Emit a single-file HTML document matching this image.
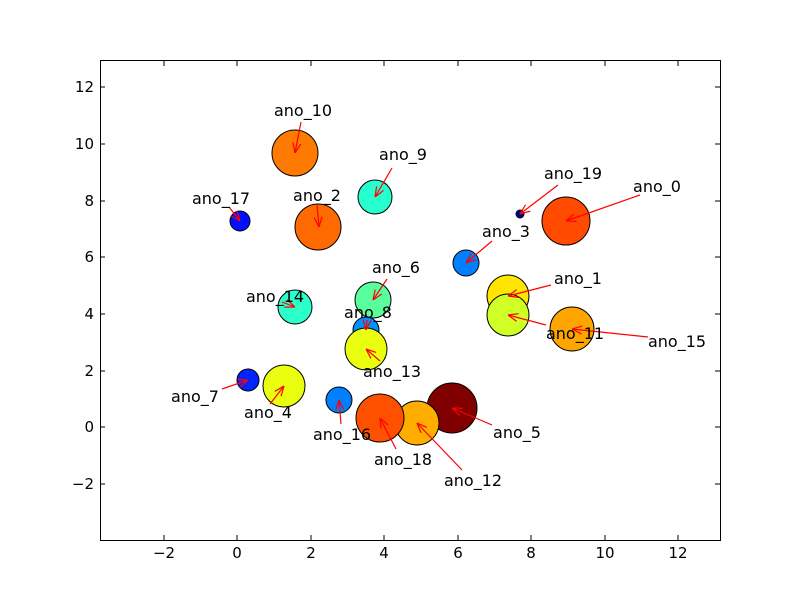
<!DOCTYPE html>
<html><head><meta charset="utf-8"><style>
html,body{margin:0;padding:0;background:#fff;}
svg{display:block;font-family:"DejaVu Sans","Liberation Sans",sans-serif;}
</style></head><body>
<svg width="800" height="600" viewBox="0 0 800 600" xmlns="http://www.w3.org/2000/svg">
<defs>
<marker id="a" viewBox="0 0 10 10" refX="10" refY="5" markerWidth="10" markerHeight="10" markerUnits="userSpaceOnUse" orient="auto">
<path d="M0,1 L10,5 L0,9" fill="none" stroke="red" stroke-width="1.2"/>
</marker>
</defs>
<rect width="800" height="600" fill="#fff"/>
<g stroke="#000" stroke-width="1">
<circle cx="566" cy="221" r="24" fill="#ff4a00"/>
<circle cx="508" cy="296" r="21" fill="#ffe500"/>
<circle cx="318" cy="227" r="23" fill="#ff6a00"/>
<circle cx="466" cy="263" r="13" fill="#0080ff"/>
<circle cx="284" cy="386" r="21" fill="#eaff0f"/>
<circle cx="452" cy="408" r="25" fill="#800000"/>
<circle cx="373" cy="300" r="18" fill="#5aff9d"/>
<circle cx="248" cy="380" r="11" fill="#0024ff"/>
<circle cx="366" cy="330" r="13" fill="#0090ff"/>
<circle cx="375" cy="197" r="17" fill="#26ffd0"/>
<circle cx="295" cy="153" r="23" fill="#ff7a00"/>
<circle cx="508" cy="315" r="21" fill="#d0ff26"/>
<circle cx="417" cy="423" r="22" fill="#ffae00"/>
<circle cx="366" cy="349" r="21" fill="#eaff0f"/>
<circle cx="295" cy="307" r="17" fill="#2bffca"/>
<circle cx="572" cy="329" r="22" fill="#ffa500"/>
<circle cx="339" cy="400" r="13" fill="#0080ff"/>
<circle cx="240" cy="221" r="10" fill="#0010ff"/>
<circle cx="380" cy="418" r="24" fill="#ff5000"/>
<circle cx="520" cy="214" r="4" fill="#000090"/>
</g>
<g stroke="red" stroke-width="1.2" marker-end="url(#a)">
<line x1="640" y1="195" x2="566" y2="221"/>
<line x1="551" y1="285" x2="508" y2="296"/>
<line x1="317" y1="205" x2="319" y2="227"/>
<line x1="492" y1="241" x2="466" y2="263"/>
<line x1="270" y1="404" x2="284" y2="386"/>
<line x1="492" y1="425" x2="452" y2="408"/>
<line x1="387" y1="279" x2="373" y2="300"/>
<line x1="222" y1="389" x2="248" y2="380"/>
<line x1="367" y1="320" x2="366" y2="330"/>
<line x1="392" y1="168" x2="375" y2="197"/>
<line x1="301" y1="122" x2="295" y2="153"/>
<line x1="546" y1="325" x2="508" y2="315"/>
<line x1="462" y1="470" x2="417" y2="423"/>
<line x1="380" y1="361" x2="366" y2="349"/>
<line x1="282" y1="302" x2="295" y2="307"/>
<line x1="648" y1="337" x2="572" y2="329"/>
<line x1="341" y1="424" x2="339" y2="400"/>
<line x1="229" y1="207" x2="240" y2="221"/>
<line x1="396" y1="449" x2="380" y2="418"/>
<line x1="558" y1="185" x2="520" y2="214"/>
</g>
<g font-size="16" fill="#000" text-anchor="middle">
<text x="657" y="192">ano_0</text>
<text x="578" y="284">ano_1</text>
<text x="317" y="201">ano_2</text>
<text x="506" y="237">ano_3</text>
<text x="268" y="418">ano_4</text>
<text x="517" y="438">ano_5</text>
<text x="396" y="273">ano_6</text>
<text x="195" y="402">ano_7</text>
<text x="368" y="318">ano_8</text>
<text x="403" y="160">ano_9</text>
<text x="303" y="116">ano_10</text>
<text x="575" y="339">ano_11</text>
<text x="473" y="486">ano_12</text>
<text x="392" y="377">ano_13</text>
<text x="275" y="302">ano_14</text>
<text x="677" y="347">ano_15</text>
<text x="342" y="440">ano_16</text>
<text x="221" y="204">ano_17</text>
<text x="403" y="465">ano_18</text>
<text x="573" y="179">ano_19</text>
</g>
<rect x="100.5" y="60.5" width="620" height="480" fill="none" stroke="#000" stroke-width="1"/>
<g stroke="#000" stroke-width="1">
<path d="M164,540v-5M237,540v-5M311,540v-5M384,540v-5M458,540v-5M531,540v-5M605,540v-5M678,540v-5"/>
<path d="M164,61v5M237,61v5M311,61v5M384,61v5M458,61v5M531,61v5M605,61v5M678,61v5"/>
<path d="M100,484h5M100,427h5M100,371h5M100,314h5M100,257h5M100,201h5M100,144h5M100,87h5"/>
<path d="M720,484h-5M720,427h-5M720,371h-5M720,314h-5M720,257h-5M720,201h-5M720,144h-5M720,87h-5"/>
</g>
<g font-size="15" fill="#000" text-anchor="middle">
<text x="164" y="558">−2</text><text x="237" y="558">0</text><text x="311" y="558">2</text><text x="384" y="558">4</text>
<text x="458" y="558">6</text><text x="531" y="558">8</text><text x="605" y="558">10</text><text x="678" y="558">12</text>
</g>
<g font-size="15" fill="#000" text-anchor="end">
<text x="94" y="489">−2</text><text x="94" y="432">0</text><text x="94" y="376">2</text><text x="94" y="319">4</text>
<text x="94" y="262">6</text><text x="94" y="206">8</text><text x="94" y="149">10</text><text x="94" y="92">12</text>
</g>
</svg>
</body></html>
